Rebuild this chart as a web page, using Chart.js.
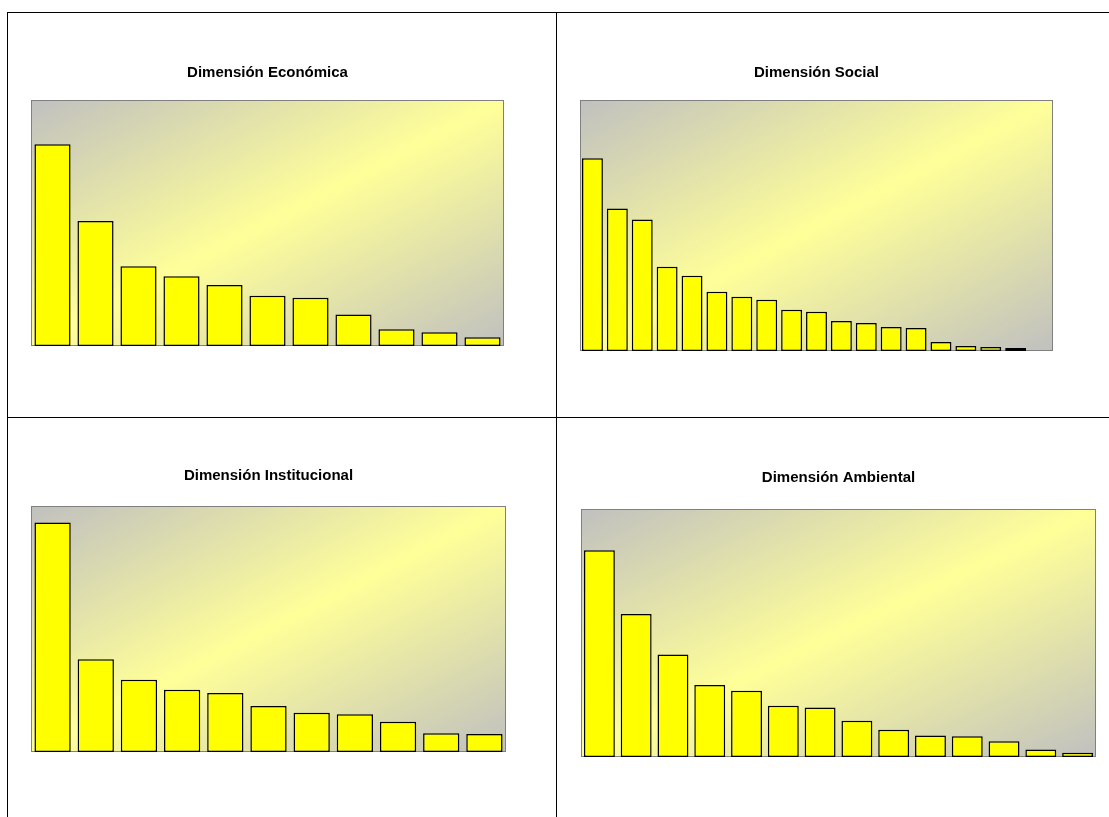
<!DOCTYPE html>
<html>
<head>
<meta charset="utf-8">
<script src="https://cdn.jsdelivr.net/npm/chart.js@4.4.1/dist/chart.umd.min.js"></script>
<style>
  body { margin: 0; background: #fff; width: 1109px; height: 817px; position: relative; overflow: hidden; }
  .line { position: absolute; background: #000; }
  canvas { position: absolute; }
</style>
</head>
<body>
<div class="line" style="left:7px;top:12px;width:1102px;height:1px"></div>
<div class="line" style="left:7px;top:417px;width:1102px;height:1px"></div>
<div class="line" style="left:7px;top:12px;width:1px;height:805px"></div>
<div class="line" style="left:556px;top:12px;width:1px;height:805px"></div>

<canvas id="economica" width="547" height="404" style="left:8px;top:13px"></canvas>
<canvas id="social" width="551" height="404" style="left:558px;top:13px"></canvas>
<canvas id="institucional" width="547" height="399" style="left:8px;top:418px"></canvas>
<canvas id="ambiental" width="551" height="399" style="left:558px;top:418px"></canvas>

<script>
// data (arbitrary units)
const titles = ['Dimensión Económica', 'Dimensión Social', 'Dimensión Institucional', 'Dimensión Ambiental'];

const economicaLabels = ['1', '2', '3', '4', '5', '6', '7', '8', '9', '10', '11'];
const economicaValues = [20.5, 12.7, 8.1, 7.1, 6.2, 5.1, 4.9, 3.2, 1.7, 1.4, 0.9];

const socialLabels = ['1', '2', '3', '4', '5', '6', '7', '8', '9', '10', '11', '12', '13', '14', '15', '16', '17', '18', '19'];
const socialValues = [19.2, 14.2, 13.1, 8.4, 7.5, 5.9, 5.4, 5.1, 4.1, 3.9, 3.0, 2.8, 2.4, 2.3, 0.9, 0.5, 0.4, 0.3, null];

const institucionalLabels = ['1', '2', '3', '4', '5', '6', '7', '8', '9', '10', '11'];
const institucionalValues = [28.0, 11.3, 8.8, 7.6, 7.2, 5.6, 4.8, 4.6, 3.7, 2.3, 2.2];

const ambientalLabels = ['1', '2', '3', '4', '5', '6', '7', '8', '9', '10', '11', '12', '13', '14'];
const ambientalValues = [25.0, 17.3, 12.4, 8.7, 8.0, 6.2, 6.0, 4.4, 3.3, 2.6, 2.5, 1.9, 0.9, 0.5];

const axisMax = [25, 25, 30, 30];

// where each panel sits on the page
const panels = [
    { id: 'economica', labels: economicaLabels, values: economicaValues,
      canvas: { x: 8, y: 13, w: 547, h: 404 }, area: { x0: 31, y0: 100, x1: 504, y1: 346 }, titleY: 72.5 },
    { id: 'social', labels: socialLabels, values: socialValues,
      canvas: { x: 558, y: 13, w: 551, h: 404 }, area: { x0: 580, y0: 100, x1: 1053, y1: 351 }, titleY: 72.5 },
    { id: 'institucional', labels: institucionalLabels, values: institucionalValues,
      canvas: { x: 8, y: 418, w: 547, h: 399 }, area: { x0: 31, y0: 506, x1: 506, y1: 752 }, titleY: 476 },
    { id: 'ambiental', labels: ambientalLabels, values: ambientalValues,
      canvas: { x: 558, y: 418, w: 551, h: 399 }, area: { x0: 581, y0: 509, x1: 1096, y1: 757 }, titleY: 477.5 }
];

// gray -> light yellow -> gray, banded along the plot's anti-diagonal
const plotBackground = {
    id: 'plotBackground',
    beforeDatasetsDraw(chart) {
        const { ctx, chartArea: a } = chart;
        const w = a.right - a.left, h = a.bottom - a.top;
        const cx = a.left + w / 2, cy = a.top + h / 2;
        const k = w * h / (w * w + h * h);
        const g = ctx.createLinearGradient(cx - h * k, cy - w * k, cx + h * k, cy + w * k);
        g.addColorStop(0, '#c0c0c0');
        g.addColorStop(0.5, '#ffff99');
        g.addColorStop(1, '#c0c0c0');
        ctx.save();
        ctx.fillStyle = g;
        ctx.fillRect(a.left, a.top, w, h);
        ctx.strokeStyle = '#808080';
        ctx.lineWidth = 1;
        ctx.strokeRect(a.left + 0.5, a.top + 0.5, w - 1, h - 1);
        ctx.restore();
    }
};

const fontSize = 15;
const lineH = fontSize * 1.2;

panels.forEach((p, i) => {
    const c = p.canvas, a = p.area;
    const padTop = p.titleY - c.y - lineH / 2;
    new Chart(document.getElementById(p.id), {
        type: 'bar',
        data: {
            labels: p.labels,
            datasets: [{
                data: p.values,
                backgroundColor: '#ffff00',
                borderColor: '#000000',
                borderWidth: 1.5,
                borderSkipped: false,
                barPercentage: 0.84,
                categoryPercentage: 1
            }]
        },
        options: {
            responsive: false,
            animation: false,
            layout: {
                padding: {
                    left: a.x0 - c.x,
                    right: c.x + c.w - a.x1,
                    top: 0,
                    bottom: c.y + c.h - a.y1
                }
            },
            scales: {
                x: { display: false },
                y: { display: false, min: 0, max: axisMax[i] }
            },
            plugins: {
                legend: { display: false },
                tooltip: { enabled: false },
                title: {
                    display: true,
                    text: titles[i],
                    fullSize: false,
                    color: '#000',
                    font: { family: 'Liberation Sans, Arial, sans-serif', size: fontSize, weight: 'bold' },
                    padding: { top: padTop, bottom: a.y0 - c.y - padTop - lineH }
                }
            }
        },
        plugins: [plotBackground]
    });
});
</script>
</body>
</html>
